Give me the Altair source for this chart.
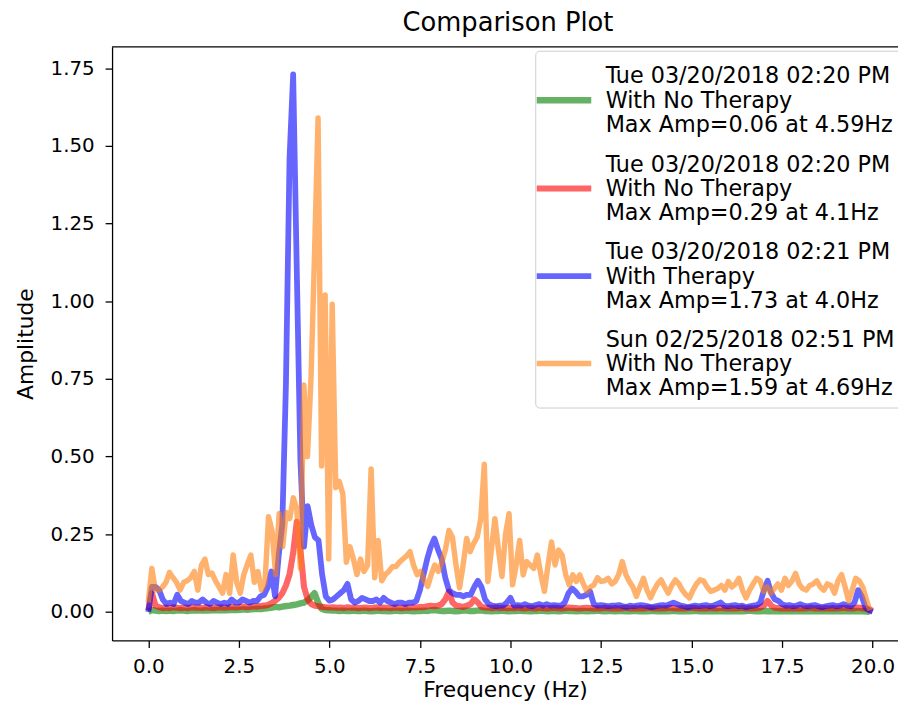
import altair as alt
import pandas as pd

TITLE = "Comparison Plot"
X_TITLE = "Frequency (Hz)"
Y_TITLE = "Amplitude"

SERIES_LABELS = [
    "Tue 03/20/2018 02:20 PM|With No Therapy|Max Amp=0.06 at 4.59Hz",
    "Tue 03/20/2018 02:20 PM|With No Therapy|Max Amp=0.29 at 4.1Hz",
    "Tue 03/20/2018 02:21 PM|With Therapy|Max Amp=1.73 at 4.0Hz",
    "Sun 02/25/2018 02:51 PM|With No Therapy|Max Amp=1.59 at 4.69Hz",
]
SERIES_COLORS = ["green", "red", "blue", "#ff7f0e"]
SERIES_WIDTHS = [6.5, 5.5, 3, 3.5]

X_TICKS = [0.0, 2.5, 5.0, 7.5, 10.0, 12.5, 15.0, 17.5, 20.0]
Y_TICKS = [0.0, 0.25, 0.5, 0.75, 1.0, 1.25, 1.5, 1.75]

# frequency resolution of each recording (Hz per bin)
STEP_GREEN = 0.09766
STEP_RED = 0.1
STEP_BLUE = 0.1
STEP_ORANGE = 0.09766

GREEN_AMP = [
    0.0, 0.006, 0.004, 0.003, 0.004, 0.003, 0.004, 0.003, 0.004, 0.005,
    0.004, 0.003, 0.004, 0.005, 0.004, 0.004, 0.005, 0.004, 0.005, 0.006,
    0.005, 0.006, 0.005, 0.006, 0.007, 0.006, 0.007, 0.008, 0.007, 0.008,
    0.009, 0.010, 0.009, 0.011, 0.012, 0.014, 0.016, 0.015, 0.017, 0.019,
    0.020, 0.022, 0.024, 0.027, 0.030, 0.036, 0.048, 0.060, 0.030, 0.010,
    0.006, 0.005, 0.004, 0.004, 0.003, 0.004, 0.003, 0.003, 0.004, 0.003,
    0.003, 0.004, 0.003, 0.002, 0.003, 0.004, 0.003, 0.003, 0.002, 0.003,
    0.004, 0.003, 0.003, 0.004, 0.003, 0.002, 0.003, 0.003, 0.004, 0.003,
    0.005, 0.006, 0.004, 0.003, 0.003, 0.004, 0.003, 0.002, 0.003, 0.004,
    0.004, 0.003, 0.003, 0.004, 0.005, 0.003, 0.003, 0.002, 0.003, 0.003,
    0.004, 0.003, 0.002, 0.003, 0.003, 0.004, 0.003, 0.003, 0.002, 0.003,
    0.003, 0.004, 0.003, 0.002, 0.003, 0.003, 0.002, 0.003, 0.004, 0.003,
    0.003, 0.002, 0.003, 0.003, 0.002, 0.003, 0.003, 0.004, 0.003, 0.002,
    0.003, 0.003, 0.002, 0.003, 0.003, 0.002, 0.002, 0.003, 0.003, 0.002,
    0.003, 0.002, 0.003, 0.003, 0.002, 0.002, 0.003, 0.002, 0.003, 0.003,
    0.002, 0.003, 0.002, 0.002, 0.003, 0.003, 0.002, 0.002, 0.003, 0.002,
    0.003, 0.002, 0.002, 0.003, 0.002, 0.002, 0.003, 0.002, 0.002, 0.003,
    0.004, 0.003, 0.002, 0.002, 0.003, 0.002, 0.002, 0.003, 0.002, 0.002,
    0.003, 0.002, 0.002, 0.003, 0.002, 0.002, 0.003, 0.002, 0.002, 0.002,
    0.003, 0.002, 0.002, 0.003, 0.002, 0.002, 0.002, 0.003, 0.002, 0.002,
    0.003, 0.002, 0.002, 0.001, 0.0,
]

RED_AMP = [
    0.005, 0.06, 0.02, 0.015, 0.012, 0.014, 0.012, 0.015, 0.013, 0.012,
    0.014, 0.012, 0.015, 0.013, 0.014, 0.012, 0.015, 0.013, 0.012, 0.014,
    0.015, 0.013, 0.014, 0.016, 0.014, 0.015, 0.017, 0.015, 0.016, 0.018,
    0.017, 0.019, 0.020, 0.022, 0.028, 0.035, 0.045, 0.060, 0.085, 0.120,
    0.190, 0.290, 0.200, 0.080, 0.040, 0.025, 0.020, 0.018, 0.016, 0.015,
    0.014, 0.015, 0.013, 0.014, 0.012, 0.015, 0.013, 0.014, 0.012, 0.013,
    0.014, 0.012, 0.013, 0.015, 0.012, 0.014, 0.013, 0.012, 0.014, 0.013,
    0.012, 0.014, 0.013, 0.015, 0.014, 0.016, 0.015, 0.018, 0.020, 0.018,
    0.020, 0.025, 0.040, 0.065, 0.030, 0.020, 0.018, 0.016, 0.020, 0.025,
    0.040, 0.030, 0.016, 0.014, 0.013, 0.012, 0.014, 0.012, 0.013, 0.012,
    0.013, 0.012, 0.014, 0.012, 0.011, 0.013, 0.012, 0.011, 0.013, 0.012,
    0.011, 0.012, 0.013, 0.012, 0.011, 0.012, 0.014, 0.013, 0.012, 0.011,
    0.012, 0.013, 0.012, 0.011, 0.012, 0.011, 0.013, 0.012, 0.011, 0.012,
    0.011, 0.012, 0.013, 0.011, 0.012, 0.011, 0.012, 0.011, 0.013, 0.012,
    0.011, 0.012, 0.011, 0.012, 0.013, 0.012, 0.011, 0.012, 0.011, 0.012,
    0.013, 0.012, 0.011, 0.012, 0.011, 0.012, 0.012, 0.011, 0.013, 0.012,
    0.011, 0.012, 0.011, 0.012, 0.013, 0.011, 0.012, 0.011, 0.012, 0.014,
    0.020, 0.035, 0.020, 0.013, 0.012, 0.011, 0.012, 0.011, 0.012, 0.011,
    0.012, 0.011, 0.012, 0.013, 0.011, 0.012, 0.011, 0.012, 0.011, 0.012,
    0.011, 0.012, 0.013, 0.012, 0.011, 0.012, 0.014, 0.012, 0.010, 0.008,
    0.003,
]

BLUE_AMP = [
    0.0, 0.08, 0.08, 0.07, 0.04, 0.025, 0.03, 0.025, 0.055, 0.035,
    0.03, 0.025, 0.035, 0.03, 0.03, 0.04, 0.03, 0.025, 0.035, 0.03,
    0.025, 0.03, 0.025, 0.04, 0.03, 0.03, 0.04, 0.035, 0.03, 0.035,
    0.035, 0.05, 0.055, 0.08, 0.13, 0.05, 0.18, 0.28, 0.73, 1.46,
    1.73, 1.10, 0.49, 0.21, 0.34, 0.28, 0.24, 0.23, 0.12, 0.05,
    0.036, 0.04, 0.05, 0.06, 0.07, 0.09, 0.04, 0.03, 0.035, 0.045,
    0.04, 0.035, 0.035, 0.04, 0.03, 0.045, 0.035, 0.03, 0.025, 0.03,
    0.03, 0.025, 0.03, 0.03, 0.035, 0.07, 0.12, 0.17, 0.21, 0.236,
    0.20, 0.17, 0.11, 0.07, 0.06, 0.055, 0.055, 0.05, 0.055, 0.055,
    0.08, 0.10, 0.08, 0.04, 0.025, 0.02, 0.018, 0.02, 0.02, 0.03,
    0.045, 0.02, 0.022, 0.02, 0.025, 0.02, 0.018, 0.022, 0.025, 0.02,
    0.025, 0.02, 0.022, 0.02, 0.02, 0.03, 0.06, 0.075, 0.065, 0.05,
    0.05, 0.055, 0.065, 0.025, 0.02, 0.022, 0.02, 0.018, 0.02, 0.02,
    0.022, 0.018, 0.016, 0.02, 0.018, 0.02, 0.022, 0.02, 0.018, 0.015,
    0.018, 0.02, 0.022, 0.02, 0.025, 0.03, 0.025, 0.02, 0.018, 0.015,
    0.018, 0.02, 0.018, 0.02, 0.022, 0.018, 0.02, 0.025, 0.03, 0.02,
    0.018, 0.02, 0.022, 0.018, 0.02, 0.015, 0.018, 0.02, 0.022, 0.03,
    0.07, 0.10, 0.06, 0.04, 0.035, 0.025, 0.02, 0.022, 0.018, 0.02,
    0.025, 0.02, 0.018, 0.02, 0.022, 0.018, 0.015, 0.018, 0.02, 0.022,
    0.018, 0.02, 0.025, 0.02, 0.018, 0.03, 0.07, 0.05, 0.015, 0.005,
    0.0,
]

ORANGE_AMP = [
    0.03, 0.14, 0.07, 0.07, 0.08, 0.095, 0.127, 0.11, 0.095, 0.07,
    0.095, 0.10, 0.11, 0.13, 0.07, 0.15, 0.17, 0.12, 0.125, 0.10,
    0.08, 0.06, 0.12, 0.06, 0.183, 0.095, 0.06, 0.12, 0.153, 0.183,
    0.095, 0.13, 0.07, 0.095, 0.306, 0.26, 0.12, 0.317, 0.21, 0.32,
    0.30, 0.367, 0.33, 0.14, 0.73, 0.50, 0.75, 1.15, 1.59, 0.47,
    1.02, 0.17, 0.99, 0.40, 0.42, 0.38, 0.16, 0.21, 0.17, 0.12,
    0.17, 0.13, 0.15, 0.46, 0.11, 0.23, 0.10, 0.12, 0.13, 0.145,
    0.146, 0.16, 0.17, 0.18, 0.194, 0.15, 0.12, 0.13, 0.10, 0.082,
    0.12, 0.151, 0.13, 0.16, 0.20, 0.262, 0.24, 0.15, 0.077, 0.15,
    0.236, 0.194, 0.22, 0.241, 0.30, 0.475, 0.098, 0.20, 0.30, 0.20,
    0.114, 0.25, 0.316, 0.087, 0.15, 0.23, 0.119, 0.162, 0.15, 0.14,
    0.183, 0.12, 0.066, 0.15, 0.225, 0.151, 0.199, 0.183, 0.12, 0.087,
    0.119, 0.098, 0.119, 0.09, 0.066, 0.08, 0.087, 0.11, 0.098, 0.10,
    0.108, 0.09, 0.098, 0.12, 0.162, 0.12, 0.098, 0.08, 0.05, 0.08,
    0.108, 0.07, 0.045, 0.07, 0.09, 0.103, 0.08, 0.06, 0.085, 0.103,
    0.09, 0.07, 0.055, 0.045, 0.07, 0.09, 0.103, 0.10, 0.08, 0.066,
    0.07, 0.075, 0.085, 0.07, 0.098, 0.08, 0.09, 0.108, 0.07, 0.045,
    0.07, 0.09, 0.108, 0.10, 0.066, 0.08, 0.06, 0.075, 0.09, 0.07,
    0.108, 0.085, 0.10, 0.124, 0.09, 0.075, 0.07, 0.085, 0.09, 0.10,
    0.08, 0.07, 0.09, 0.085, 0.06, 0.10, 0.12, 0.08, 0.035, 0.07,
    0.108, 0.10, 0.08, 0.04, 0.005,
]

SERIES_AMPS = [GREEN_AMP, RED_AMP, BLUE_AMP, ORANGE_AMP]
SERIES_STEPS = [STEP_GREEN, STEP_RED, STEP_BLUE, STEP_ORANGE]

rows = []
for label, amps, step in zip(SERIES_LABELS, SERIES_AMPS, SERIES_STEPS):
    for i, a in enumerate(amps):
        rows.append({"freq": round(i * step, 4), "amp": a, "series": label})
df = pd.DataFrame(rows)

W, H = 793, 599
FONT = "DejaVu Sans"
LABEL_EXPR = "split(datum.label, '|')"
# legend swatch: horizontal line drawn level with the middle line of each 3-line label
SWATCH = "M-1,0.4H1"

lines = alt.Chart(df).mark_line(strokeOpacity=0.6, strokeJoin="round", clip=True).encode(
    x=alt.X("freq:Q", scale=alt.Scale(domain=[-1.0, 20.7], nice=False, zero=False),
            axis=alt.Axis(title=X_TITLE, values=X_TICKS, format=".1f")),
    y=alt.Y("amp:Q", scale=alt.Scale(domain=[-0.092, 1.819], nice=False, zero=False),
            axis=alt.Axis(title=Y_TITLE, values=Y_TICKS, format=".2f")),
    color=alt.Color("series:N", scale=alt.Scale(domain=SERIES_LABELS, range=SERIES_COLORS),
                    legend=alt.Legend(title=None, labelExpr=LABEL_EXPR)),
    strokeWidth=alt.StrokeWidth("series:N", scale=alt.Scale(domain=SERIES_LABELS, range=SERIES_WIDTHS),
                                legend=alt.Legend(title=None, labelExpr=LABEL_EXPR)),
)

top_border = alt.Chart(pd.DataFrame({"edge": ["top"]})).mark_rule(color="black", strokeWidth=1.3).encode(
    x=alt.value(0), x2=alt.value(W), y=alt.value(0)
)

chart = alt.layer(lines, top_border).properties(
    width=W, height=H,
    title=alt.TitleParams(TITLE, fontSize=26, fontWeight="normal", font=FONT, color="black",
                          anchor="middle", offset=10, dx=3),
    autosize=alt.AutoSizeParams(type="none"),
    padding={"left": 105, "top": 36, "right": 0, "bottom": 61},
).configure_view(stroke=None).configure_axis(
    labelFont=FONT, titleFont=FONT, labelFontSize=20, titleFontSize=22,
    titleFontWeight="normal", labelColor="black", titleColor="black",
    domainColor="black", domainWidth=1.3, tickColor="black", tickWidth=1.3,
    tickSize=7, grid=False,
).configure_axisX(labelPadding=9, titlePadding=4).configure_axisY(
    labelPadding=11, titlePadding=13
).configure_legend(
    orient="none", legendX=427, legendY=4, labelFont=FONT, labelFontSize=22.5,
    labelColor="black", labelLimit=500, labelOffset=11, labelBaseline="line-bottom",
    symbolType=SWATCH, symbolSize=3025, symbolOpacity=0.6, symbolOffset=-10,
    rowPadding=10, padding=8, strokeColor="#cccccc", fillColor="white", cornerRadius=4,
)

chart.save("out.html", embed_options={"renderer": "svg", "actions": False})
